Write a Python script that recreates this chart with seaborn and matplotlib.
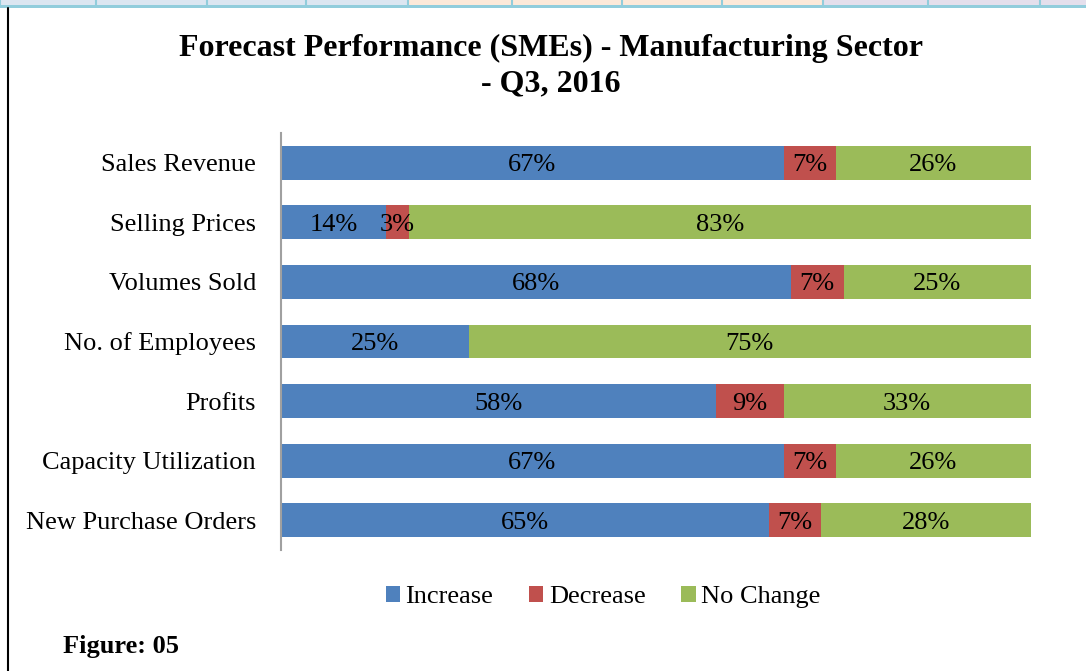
import matplotlib
matplotlib.use("Agg")
import matplotlib.pyplot as plt
from matplotlib.patches import Rectangle
from matplotlib.lines import Line2D
import seaborn as sns
import pandas as pd

categories = ["Sales Revenue", "Selling Prices", "Volumes Sold", "No. of Employees",
              "Profits", "Capacity Utilization", "New Purchase Orders"]
increase = [67, 14, 68, 25, 58, 67, 65]
decrease = [7, 3, 7, 0, 9, 7, 7]
no_change = [26, 83, 25, 75, 33, 26, 28]
series_names = ["Increase", "Decrease", "No Change"]
colors = ["#4F81BD", "#C0504D", "#9BBB59"]

sns.set_theme(style="white")
plt.rcParams["font.family"] = ["Liberation Serif", "DejaVu Serif"]
plt.rcParams["text.color"] = "black"
plt.rcParams["axes.labelcolor"] = "black"
plt.rcParams["ytick.color"] = "black"

FS = 19

df = pd.DataFrame({"cat": categories, "inc": increase, "dec": decrease, "nc": no_change})
df["c1"] = df["inc"]
df["c2"] = df["inc"] + df["dec"]
df["c3"] = df["inc"] + df["dec"] + df["nc"]

W, H = 1086, 671
fig = plt.figure(figsize=(W / 100, H / 100), dpi=100)
ax = fig.add_axes([281 / W, (H - 550) / H, (1031 - 281) / W, (550 - 133) / H])

# stacked horizontal bars: draw cumulative totals back to front
for col, c in zip(["c3", "c2", "c1"], colors[::-1]):
    sns.barplot(data=df, x=col, y="cat", color=c, orient="h", width=0.57,
                saturation=1, ax=ax, edgecolor="none", linewidth=0)

ax.set_xlim(0, 100)
ax.set_ylim(len(categories) - 0.5, -0.5)
ax.set_xlabel("")
ax.set_ylabel("")
ax.set_xticks([])
ax.tick_params(axis="y", length=0, pad=18, labelsize=FS, labelcolor="black")
for s in ["top", "right", "bottom"]:
    ax.spines[s].set_visible(False)
ax.spines["left"].set_color("#A0A0A0")
ax.spines["left"].set_linewidth(1.5)

# segment value labels
for i in range(len(categories)):
    starts = [0, increase[i], increase[i] + decrease[i]]
    vals = [increase[i], decrease[i], no_change[i]]
    for s0, v in zip(starts, vals):
        if v <= 0:
            continue
        ax.text(s0 + v / 2, i, f"{v}%", ha="center", va="center_baseline",
                fontsize=FS, color="black")

# title
fig.text(551 / W, 1 - 48 / H, "Forecast Performance (SMEs) - Manufacturing Sector",
         ha="center", va="center", fontsize=23, fontweight="bold", color="black")
fig.text(551 / W, 1 - 84 / H, "- Q3, 2016",
         ha="center", va="center", fontsize=23, fontweight="bold", color="black")

# legend
handles = [Rectangle((0, 0), 1, 1, facecolor=c, edgecolor="none") for c in colors]
leg = fig.legend(handles, series_names, loc="center", bbox_to_anchor=(603 / W, 1 - 597 / H),
                 ncol=3, frameon=False, fontsize=FS, handlelength=0.55, handleheight=0.55,
                 handletextpad=0.2, columnspacing=1.35)
for t in leg.get_texts():
    t.set_color("black")

fig.text(63 / W, 1 - 646 / H, "Figure: 05", ha="left", va="center",
         fontsize=FS, fontweight="bold", color="black")

# page decoration: table strip at top and left rule
edges = [0, 96, 207, 306, 408, 512, 622, 722, 823, 928, 1040, 1086]
for a, b in zip(edges[:-1], edges[1:]):
    fc = "#DCE6F1" if a < 408 else ("#FDE9D9" if a < 823 else "#E4DFEC")
    fig.patches.append(Rectangle((a / W, 1 - 5 / H), (b - a) / W, 5 / H,
                                 transform=fig.transFigure, facecolor=fc,
                                 edgecolor="none"))
    fig.lines.append(Line2D([a / W, a / W], [1 - 5 / H, 1], transform=fig.transFigure,
                            color="#92CDDC", linewidth=1.5))
fig.patches.append(Rectangle((0, 1 - 8 / H), 1, 3 / H, transform=fig.transFigure,
                             facecolor="#92CDDC", edgecolor="none"))
fig.lines.append(Line2D([7.5 / W, 7.5 / W], [0, 1 - 8 / H], transform=fig.transFigure,
                        color="black", linewidth=1.5))

fig.savefig("out.png", dpi=100)
